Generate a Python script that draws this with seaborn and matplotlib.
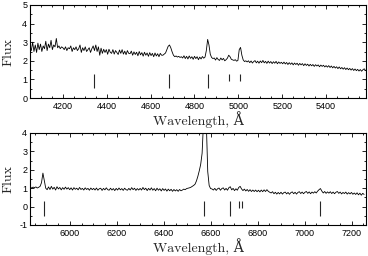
import numpy as np
import matplotlib
matplotlib.use("Agg")
import matplotlib.pyplot as plt
from matplotlib.ticker import MultipleLocator
import seaborn as sns

# --- dados ---

# painel superior: espectro azul, grade de 6 A a partir de 4050 A
inicio_azul = 4050
passo = 6
fluxo_azul = [
    2.75, 2.55, 3.0, 2.5, 2.85, 2.45, 2.95, 2.6, 2.9, 2.5, 2.8, 2.65, 3.05, 2.55, 2.9, 2.7, 3.1, 2.6, 2.85, 2.75, 3.2, 2.7, 2.8, 2.65, 2.75, 2.7,
    2.6, 2.75, 2.55, 2.7, 2.65, 2.8, 2.5, 2.7, 2.6, 2.75, 2.55, 2.65, 2.85, 2.45, 2.7, 2.55, 2.75, 2.5, 2.6, 2.7, 2.45, 2.65, 2.8, 2.55, 2.85,
    2.5, 2.75, 2.3, 2.68, 2.4, 2.62, 2.45, 2.6, 2.35, 2.62, 2.46, 2.4, 2.6, 2.36, 2.55, 2.44, 2.34, 2.58, 2.4, 2.6, 2.36, 2.52, 2.33, 2.55, 2.4,
    2.38, 2.52, 2.3, 2.48, 2.34, 2.46, 2.27, 2.5, 2.32, 2.44, 2.25, 2.46, 2.3, 2.42, 2.24, 2.44, 2.28, 2.4, 2.22, 2.42, 2.26, 2.38, 2.22, 2.4, 2.3,
    2.3, 2.36, 2.42, 2.6, 2.78, 2.85, 2.7, 2.48, 2.3, 2.22, 2.26, 2.2, 2.24, 2.18, 2.22,
    2.15, 2.27, 2.12, 2.24, 2.1, 2.26, 2.13, 2.22, 2.08, 2.24, 2.12, 2.22, 2.06, 2.2, 2.1, 2.23, 2.14,
    2.2, 2.55, 3.15, 2.85, 2.35, 2.18, 2.12, 2.15,
    2.04, 2.17, 2.07, 2.02, 2.15, 2.05, 2.13, 2.0, 2.06, 2.14,
    2.3, 2.22, 2.08, 2.05, 2.02, 2.06, 1.98, 2.02,
    2.6, 2.72, 2.3, 2.05, 1.96, 2.0, 1.94,
    2.0, 1.9, 1.99, 1.88, 1.96, 2.01, 1.89, 1.98, 1.87, 1.99, 1.9, 2.02, 1.89, 1.97, 1.86, 1.98, 1.88, 1.96, 1.85, 1.95, 1.87, 1.97, 1.84, 1.94, 1.86, 1.92,
    1.84, 1.93, 1.83, 1.91, 1.8, 1.9, 1.81, 1.89, 1.78, 1.88, 1.8, 1.87, 1.76, 1.86, 1.78, 1.85, 1.74, 1.84, 1.75, 1.82, 1.72, 1.81, 1.73, 1.8,
    1.7, 1.79, 1.72, 1.78, 1.68, 1.77, 1.7, 1.76, 1.67, 1.74,
    1.66, 1.74, 1.64, 1.72, 1.62, 1.7, 1.61, 1.68, 1.58, 1.67, 1.57, 1.64, 1.55, 1.63, 1.53, 1.61, 1.52, 1.59, 1.5, 1.58, 1.48, 1.56, 1.47, 1.54,
    1.45, 1.53, 1.44, 1.52, 1.57, 1.47,
]
linhas_azul = [4340, 4686, 4861, 4959, 5007]
base_azul = [0.55, 0.55, 0.55, 0.9, 0.9]
topo_azul = [1.3, 1.3, 1.3, 1.3, 1.3]

# painel inferior: espectro vermelho, grade de 6 A a partir de 5825 A
inicio_verm = 5825
fluxo_verm = [
    1.02, 1.08, 1.0, 1.06, 1.03, 1.07, 1.01, 1.05, 1.1,
    1.3, 1.82, 1.4, 1.0, 0.92,
    1.07, 0.93, 1.1, 0.95, 1.05, 0.9, 1.08, 0.96, 1.04, 0.91, 1.03, 0.94, 1.06, 0.95, 1.03, 0.92, 1.02, 0.9, 1.03, 0.94,
    1.0, 0.91, 1.04, 0.93, 0.99, 0.9, 1.02, 0.93, 0.99, 0.89, 1.01, 0.92,
    0.99, 0.9, 1.01, 0.89, 0.97, 1.0, 0.88, 0.99, 0.91, 1.02, 0.92, 0.89, 1.0, 0.9, 0.98, 0.87, 0.99, 0.9, 1.01, 0.91,
    0.98, 0.88, 1.0, 0.92, 0.89, 0.99, 0.9, 1.03, 0.92, 1.0, 0.88, 0.98, 0.9,
    0.99, 0.9, 1.04, 0.92, 1.0, 0.87, 0.99, 0.9, 1.02, 0.89, 0.98, 0.86, 1.0, 0.89, 0.97, 0.85, 0.98, 0.88, 0.96, 0.84,
    0.95, 0.86, 0.94, 0.83, 0.93, 0.85, 0.92, 0.83, 0.93, 0.86, 0.9, 0.95, 0.92, 0.98, 1.0,
    1.02, 1.05, 1.1, 1.15, 1.22, 1.4, 1.65, 1.95, 2.3, 2.9, 4.6, 6.0, 4.5, 1.9, 1.15, 0.98, 0.96,
    0.9, 0.99, 0.88, 0.97, 1.01, 0.89, 0.98, 1.02, 0.9, 0.99, 0.89, 1.03, 1.08, 0.91, 0.99, 0.87,
    0.97, 0.89, 1.04, 1.1, 0.96, 0.87, 0.95, 0.85, 0.93, 0.83, 0.92, 0.82, 0.9, 0.82, 0.9, 0.81,
    0.89, 0.8, 0.9, 0.81, 0.91, 0.82, 0.92, 0.83, 0.78, 0.74, 0.81, 0.7, 0.78, 0.68, 0.77, 0.69, 0.78,
    0.68, 0.76, 0.79, 0.69, 0.77, 0.67, 0.76, 0.8, 0.7, 0.78, 0.68, 0.77, 0.81, 0.71, 0.79, 0.7,
    0.78, 0.82, 0.72, 0.8, 0.7, 0.79, 0.73, 0.81, 0.74, 0.84, 0.92, 0.98, 0.84, 0.74, 0.82, 0.72, 0.8,
    0.73, 0.81, 0.71, 0.79, 0.7, 0.78, 0.82, 0.72, 0.79, 0.69, 0.77, 0.71, 0.79,
    0.68, 0.76, 0.69, 0.77, 0.67, 0.74, 0.66, 0.75, 0.64, 0.73, 0.62, 0.72, 0.66,
]
linhas_verm = [5888, 6570, 6683, 6720, 6734, 7065]
base_verm = [-0.5, -0.5, -0.5, -0.1, -0.1, -0.5]
topo_verm = [0.3, 0.3, 0.3, 0.3, 0.3, 0.3]

onda_azul = inicio_azul + passo * np.arange(len(fluxo_azul))
onda_verm = inicio_verm + passo * np.arange(len(fluxo_verm))

# --- estilo ---
sns.set_style("ticks")
plt.rcParams["font.family"] = ["Liberation Sans", "DejaVu Sans"]
plt.rcParams["axes.unicode_minus"] = False
fonte_rotulo = dict(family=["cmr10", "DejaVu Serif"], size=10)


def desenhar_painel(ax, onda, fluxo, linhas, base, topo, xlim, ylim):
    sns.lineplot(x=onda, y=fluxo, ax=ax, color="k", lw=0.6, estimator=None)
    ax.vlines(linhas, base, topo, color="0.15", lw=0.8)
    ax.set_xlim(*xlim)
    ax.set_ylim(*ylim)
    ax.xaxis.set_major_locator(MultipleLocator(200))
    ax.xaxis.set_minor_locator(MultipleLocator(50))
    ax.yaxis.set_major_locator(MultipleLocator(1))
    ax.yaxis.set_minor_locator(MultipleLocator(0.5))
    ax.tick_params(which="both", direction="in", top=True, right=True,
                   width=0.6, colors="k", labelsize=6.5)
    ax.tick_params(which="major", length=3)
    ax.tick_params(which="minor", length=1.6)
    ax.tick_params(axis="x", pad=3)
    ax.tick_params(axis="y", pad=2)
    for sp in ax.spines.values():
        sp.set_linewidth(0.8)
        sp.set_color("k")
    ax.set_xlabel("Wavelength, Å", labelpad=0, **fonte_rotulo)
    ax.set_ylabel("Flux", **fonte_rotulo)
    ax.yaxis.set_label_coords(-0.045, 0.5)


fig = plt.figure(figsize=(3.68, 2.56), dpi=100)
ax1 = fig.add_axes([30 / 368, 1 - 98 / 256, 336 / 368, 93 / 256])
ax2 = fig.add_axes([30 / 368, 1 - 225 / 256, 336 / 368, 92 / 256])

desenhar_painel(ax1, onda_azul, fluxo_azul, linhas_azul, base_azul, topo_azul,
                (4050, 5582), (0, 5))
desenhar_painel(ax2, onda_verm, fluxo_verm, linhas_verm, base_verm, topo_verm,
                (5830, 7261), (-1, 4))

fig.savefig("out.png", dpi=100)
plt.close(fig)
